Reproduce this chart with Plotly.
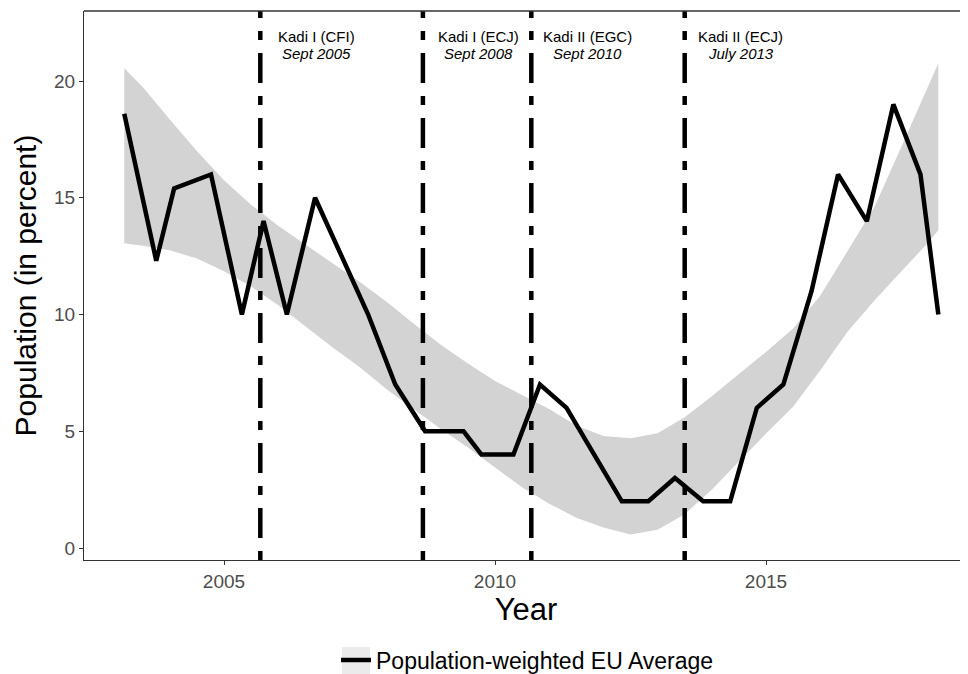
import plotly.graph_objects as go

# ---- data ----
years = [2003.16, 2003.75, 2004.08, 2004.76, 2005.33, 2005.73, 2006.16, 2006.68,
         2007.17, 2007.66, 2008.16, 2008.71, 2009.10, 2009.42, 2009.75, 2010.34,
         2010.83, 2011.32, 2011.83, 2012.34, 2012.83, 2013.32, 2013.84, 2014.34,
         2014.83, 2015.32, 2015.84, 2016.33, 2016.86, 2017.35, 2017.85, 2018.18]
values = [18.6, 12.3, 15.4, 16.0, 10.0, 14.0, 10.0, 15.0,
          12.5, 10.0, 7.0, 5.0, 5.0, 5.0, 4.0, 4.0,
          7.0, 6.0, 4.0, 2.0, 2.0, 3.0, 2.0, 2.0,
          6.0, 7.0, 11.0, 16.0, 14.0, 19.0, 16.0, 10.0]

band_years = [2003.16, 2003.5, 2004.0, 2004.5, 2005.0, 2005.5, 2006.0, 2006.5,
              2007.0, 2007.5, 2008.0, 2008.5, 2009.0, 2009.5, 2010.0, 2010.5,
              2011.0, 2011.5, 2012.0, 2012.5, 2013.0, 2013.5, 2014.0, 2014.5,
              2015.0, 2015.5, 2016.0, 2016.5, 2017.0, 2017.5, 2018.0, 2018.18]
band_upper = [20.55, 19.75, 18.35, 17.0, 15.75, 14.7, 13.8, 13.0,
              12.2, 11.4, 10.55, 9.6, 8.7, 7.9, 7.15, 6.55,
              5.95, 5.25, 4.8, 4.7, 4.92, 5.6, 6.5, 7.45,
              8.4, 9.4, 10.8, 12.7, 14.6, 17.2, 19.8, 20.76]
band_lower = [13.05, 12.95, 12.75, 12.4, 11.85, 11.2, 10.4, 9.5,
              8.6, 7.75, 6.8, 5.95, 5.1, 4.3, 3.45, 2.6,
              1.9, 1.3, 0.88, 0.58, 0.78, 1.45, 2.5, 3.7,
              4.9, 6.05, 7.6, 9.25, 10.6, 11.85, 13.1, 13.62]

event_dates = [2005.67, 2008.67, 2010.67, 2013.5]
event_names = ["Kadi I (CFI)", "Kadi I (ECJ)", "Kadi II (EGC)", "Kadi II (ECJ)"]
event_when = ["Sept 2005", "Sept 2008", "Sept 2010", "July 2013"]

x_ticks = [2005, 2010, 2015]
y_ticks = [0, 5, 10, 15, 20]

# ---- style constants ----
FONT = "Liberation Sans, Arial, Helvetica, sans-serif"
AXIS_C = "#333333"
LABEL_OFFSET = 1.03  # years to the right of each event line
# page body has an 8px margin; figure is sized so it ends at the window edge
FIG_W, FIG_H = 960, 666

fig = go.Figure()

fig.add_trace(go.Scatter(
    x=band_years + band_years[::-1],
    y=band_upper + band_lower[::-1],
    fill="toself", fillcolor="#D3D3D3",
    line=dict(width=0), mode="lines",
    hoverinfo="skip", showlegend=False,
))

fig.add_trace(go.Scatter(
    x=years, y=values, mode="lines",
    line=dict(color="black", width=4.5),
    name="Population-weighted EU Average",
    showlegend=True,
))

shapes = []
for d in event_dates:
    shapes.append(dict(type="line", xref="x", yref="paper", x0=d, x1=d, y0=0, y1=1,
                       line=dict(color="black", width=4.5, dash="9px,13px,30px,13px")))
# top border
shapes.append(dict(type="line", xref="paper", yref="paper", x0=0, x1=1, y0=1, y1=1,
                   line=dict(color=AXIS_C, width=1.3)))
# legend key background
shapes.append(dict(type="rect", xref="paper", yref="paper",
                   x0=(342 - 84) / 884, x1=(370 - 84) / 884,
                   y0=(560 - 682) / 549, y1=(560 - 647) / 549,
                   fillcolor="#EBEBEB", line=dict(width=0), layer="below"))

annotations = []
for d, n, w in zip(event_dates, event_names, event_when):
    annotations.append(dict(x=d + LABEL_OFFSET, y=21.9, xref="x", yref="y", text=n,
                            showarrow=False, xanchor="center", yanchor="middle",
                            font=dict(family=FONT, size=15, color="black")))
    annotations.append(dict(x=d + LABEL_OFFSET, y=21.17, xref="x", yref="y",
                            text="<i>" + w + "</i>",
                            showarrow=False, xanchor="center", yanchor="middle",
                            font=dict(family=FONT, size=15, color="black")))

fig.update_layout(
    width=FIG_W, height=FIG_H,
    margin=dict(l=76, r=0, t=3, b=114, autoexpand=False),
    paper_bgcolor="white", plot_bgcolor="white",
    font=dict(family=FONT),
    shapes=shapes, annotations=annotations,
    showlegend=True,
    legend=dict(orientation="h", x=(336 - 84) / 884, xanchor="left",
                y=(560 - 660) / 549, yanchor="middle",
                font=dict(family=FONT, size=23, color="black"),
                bgcolor="rgba(0,0,0,0)"),
    xaxis=dict(range=[2002.417, 2018.727], tickvals=x_ticks, automargin=False,
               ticks="outside", ticklen=4, tickwidth=1.2, tickcolor=AXIS_C,
               showline=True, linecolor=AXIS_C, linewidth=1.3,
               showgrid=False, zeroline=False,
               tickfont=dict(family=FONT, size=19, color="#4D4D4D"),
               title=dict(text="Year", font=dict(family=FONT, size=31, color="black"),
                          standoff=4)),
    yaxis=dict(range=[-0.514, 23.0], tickvals=y_ticks, automargin=False,
               ticks="outside", ticklen=4, tickwidth=1.2, tickcolor=AXIS_C,
               showline=True, linecolor=AXIS_C, linewidth=1.3,
               showgrid=False, zeroline=False,
               tickfont=dict(family=FONT, size=19, color="#4D4D4D"),
               title=dict(text="Population (in percent)",
                          font=dict(family=FONT, size=30, color="black"),
                          standoff=8)),
)

fig.write_html("out.html")
